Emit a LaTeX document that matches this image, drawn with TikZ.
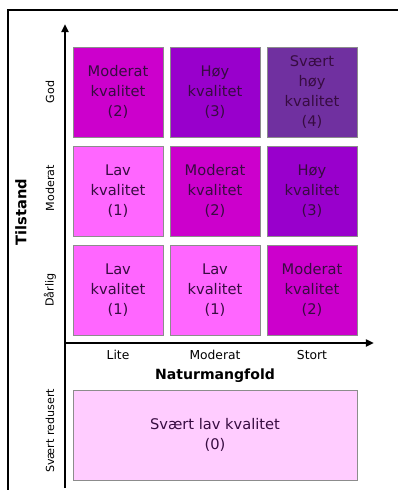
\documentclass[tikz,border=0pt]{standalone}
\usepackage{fontspec}
\setmainfont{DejaVu Sans}
\usetikzlibrary{arrows.meta}

\definecolor{kv0}{RGB}{255,204,255}
\definecolor{kv1}{RGB}{255,102,255}
\definecolor{kv2}{RGB}{204,0,204}
\definecolor{kv3}{RGB}{153,0,204}
\definecolor{kv4}{RGB}{112,48,160}
\definecolor{txt}{RGB}{55,12,65}

\begin{document}
\begin{tikzpicture}[x=0.03cm, y=-0.03cm,
  cell/.style={draw=black!45, line width=0.5pt, inner sep=0pt,
    minimum width=2.7cm, minimum height=2.7cm, align=center,
    text=txt, font=\fontsize{12.5}{17}\selectfont},
  axis/.style={line width=2pt, -{Triangle[length=7pt, width=6pt]}},
  rowlab/.style={rotate=90, font=\fontsize{9.5}{11}\selectfont},
  collab/.style={font=\fontsize{10.5}{12}\selectfont}]
  \useasboundingbox (0,0) rectangle (398,490);
  \draw[line width=1.2pt] (8,490) -- (8,10) -- (398,10);

  % akser
  \coordinate (O) at (65,343);
  \coordinate (Yend) at (65,24);
  \coordinate (Ybot) at (65,488);
  \coordinate (Xend) at (374,343);
  \draw[line width=2pt] (Ybot) -- (O);
  \draw[axis] (O) -- (Yend);
  \draw[axis] (O) -- (Xend);

  % God
  \node[cell, fill=kv2] (c13) at (118,92)  {Moderat\\kvalitet\\(2)};
  \node[cell, fill=kv3] (c23) at (215,92)  {Høy\\kvalitet\\(3)};
  \node[cell, fill=kv4] (c33) at (312,92)  {Svært\\høy\\kvalitet\\(4)};
  % Moderat
  \node[cell, fill=kv1] (c12) at (118,191) {Lav\\kvalitet\\(1)};
  \node[cell, fill=kv2] (c22) at (215,191) {Moderat\\kvalitet\\(2)};
  \node[cell, fill=kv3] (c32) at (312,191) {Høy\\kvalitet\\(3)};
  % Dårlig
  \node[cell, fill=kv1] (c11) at (118,290) {Lav\\kvalitet\\(1)};
  \node[cell, fill=kv1] (c21) at (215,290) {Lav\\kvalitet\\(1)};
  \node[cell, fill=kv2] (c31) at (312,290) {Moderat\\kvalitet\\(2)};
  % Svært redusert
  \node[cell, fill=kv0, minimum width=8.52cm] (c0) at (215,435) {Svært lav kvalitet\\(0)};

  \node[collab] (xl1) at (118,355) {Lite};
  \node[collab] (xl2) at (215,355) {Moderat};
  \node[collab] (xl3) at (312,355) {Stort};
  \node[font=\bfseries\fontsize{12}{14}\selectfont] (xlab) at (215,376) {Naturmangfold};

  \node[rowlab] (yl3) at (50,92)  {God};
  \node[rowlab] (yl2) at (50,188) {Moderat};
  \node[rowlab] (yl1) at (50,290) {Dårlig};
  \node[rowlab] (yl0) at (50,431) {Svært redusert};
  \node[rotate=90, font=\bfseries\fontsize{12.5}{14}\selectfont] (ylab) at (21,212) {Tilstand};
\end{tikzpicture}
\end{document}
